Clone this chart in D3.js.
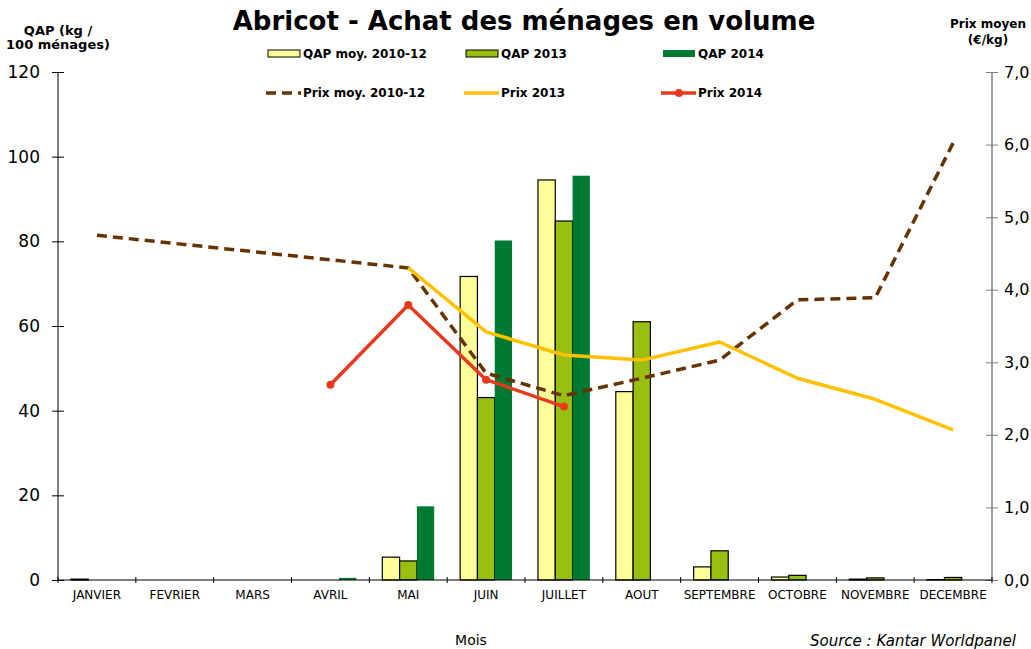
<!DOCTYPE html>
<html lang="fr">
	<head>
		<meta charset="utf-8">
		<title>Abricot - Achat des ménages en volume</title>
		<script type="text/javascript" src="https://cdn.jsdelivr.net/npm/d3@7"></script>
		<style type="text/css">
			body { margin: 0; background: #fff; }
			text { font-family: "DejaVu Sans", Verdana, sans-serif; }
		</style>
	</head>
	<body>
		<script type="text/javascript">

			//Width and height
			let w = 1031;
			let h = 649;

			//Data
			let months = ["JANVIER","FEVRIER","MARS","AVRIL","MAI","JUIN","JUILLET","AOUT","SEPTEMBRE","OCTOBRE","NOVEMBRE","DECEMBRE"];
			let qapMoy  = [0.2, 0, 0, 0, 5.4, 71.7, 94.5, 44.5, 3.1, 0.7, 0.2, 0.1];
			let qap2013 = [0, 0, 0, 0, 4.5, 43.1, 84.8, 61.0, 6.9, 1.1, 0.5, 0.6];
			let qap2014 = [0, 0, 0, 0.5, 17.4, 80.2, 95.5, null, null, null, null, null];
			let prixMoy  = [4.75, null, null, null, 4.30, 2.85, 2.54, 2.78, 3.03, 3.86, 3.89, 6.02];
			let prix2013 = [null, null, null, null, 4.30, 3.42, 3.10, 3.03, 3.28, 2.78, 2.49, 2.07];
			let prix2014 = [null, null, null, 2.69, 3.79, 2.76, 2.39, null, null, null, null, null];
			let leftTicks  = [0, 20, 40, 60, 80, 100, 120];
			let rightTicks = [0, 1, 2, 3, 4, 5, 6, 7];

			let barSeries = [
				{ name: "QAP moy. 2010-12", values: qapMoy,  fill: "#FFFF99", stroke: "#000" },
				{ name: "QAP 2013",         values: qap2013, fill: "#99BF10", stroke: "#000" },
				{ name: "QAP 2014",         values: qap2014, fill: "#007A33", stroke: "none" }
			];
			let lineSeries = [
				{ name: "Prix moy. 2010-12", values: prixMoy,  color: "#663300", dash: "10,6", dot: false },
				{ name: "Prix 2013",         values: prix2013, color: "#FFC000", dash: null,   dot: false },
				{ name: "Prix 2014",         values: prix2014, color: "#E8381E", dash: null,   dot: true }
			];

			//Plot area
			let pLeft = 58, pRight = 992, pTop = 72, pBottom = 580;

			let x = d3.scaleBand().domain(months).range([pLeft, pRight]);
			let bw = x.bandwidth();
			let xs = d3.scaleBand().domain(d3.range(barSeries.length)).range([bw / 6, bw * 5 / 6]);
			let yL = d3.scaleLinear().domain([0, 120]).range([pBottom, pTop]);
			let yR = d3.scaleLinear().domain([0, 7]).range([pBottom, pTop]);

			let svg = d3.select("body")
						.append("svg")
						  .attr("width", w)
						  .attr("height", h);

			//Bars
			barSeries.forEach((s, i) => {
				svg.append("g").selectAll("rect")
					.data(s.values.map((v, j) => ({ m: months[j], v: v })).filter(d => d.v != null && d.v > 0))
					.enter()
				  .append("rect")
					.attr("x", d => x(d.m) + xs(i))
					.attr("y", d => yL(d.v))
					.attr("width", xs.bandwidth())
					.attr("height", d => yL(0) - yL(d.v))
					.style("fill", s.fill)
					.style("stroke", s.stroke)
					.style("stroke-width", 1.2);
			});

			//Lines
			let lineGen = d3.line()
							.x(d => x(d.m) + bw / 2)
							.y(d => yR(d.v));
			lineSeries.forEach(s => {
				let pts = s.values.map((v, j) => ({ m: months[j], v: v })).filter(d => d.v != null);
				svg.append("path")
					.attr("d", lineGen(pts))
					.style("fill", "none")
					.style("stroke", s.color)
					.style("stroke-width", 3.5)
					.style("stroke-dasharray", s.dash)
					.style("stroke-linejoin", "round");
				if (s.dot) {
					svg.append("g").selectAll("circle")
						.data(pts)
						.enter()
					  .append("circle")
						.attr("cx", d => x(d.m) + bw / 2)
						.attr("cy", d => yR(d.v))
						.attr("r", 4)
						.style("fill", s.color);
				}
			});

			//Left axis
			let axL = svg.append("g")
						.attr("transform", `translate(${pLeft},0)`)
						.call(d3.axisLeft(yL).tickValues(leftTicks).tickSize(6).tickPadding(12));
			axL.selectAll(".tick line").attr("x1", 6);
			axL.select(".domain").attr("d", `M0,${pTop}V${pBottom}`);
			axL.selectAll("text").style("font-size", "17px").style("fill", "#000");

			//Right axis
			let axR = svg.append("g")
						.attr("transform", `translate(${pRight},0)`)
						.call(d3.axisRight(yR).tickValues(rightTicks).tickSize(6).tickPadding(6)
							.tickFormat(d => d3.format(".1f")(d).replace(".", ",")));
			axR.selectAll(".tick line").attr("x1", -6).style("stroke", "#808080");
			axR.select(".domain").attr("d", `M0,${pTop}V${pBottom}`).style("stroke", "#808080").style("stroke-width", 1.5);
			axR.selectAll("text").style("font-size", "16px").style("fill", "#000");

			//Bottom axis
			svg.append("line")
				.attr("x1", pLeft).attr("x2", pRight)
				.attr("y1", pBottom).attr("y2", pBottom)
				.style("stroke", "#000");
			svg.append("g").selectAll("line")
				.data(months.map(m => x(m)).concat([pRight]))
				.enter()
			  .append("line")
				.attr("x1", d => d).attr("x2", d => d)
				.attr("y1", pBottom - 3).attr("y2", pBottom + 3)
				.style("stroke", "#000");
			svg.append("g").selectAll("text")
				.data(months)
				.enter()
			  .append("text")
				.attr("x", d => x(d) + bw / 2)
				.attr("y", pBottom + 19)
				.attr("text-anchor", "middle")
				.style("font-size", "12px")
				.text(d => d);

			//Titles
			svg.append("text")
				.attr("x", 524).attr("y", 30)
				.attr("text-anchor", "middle")
				.style("font-size", "26px").style("font-weight", "bold")
				.text("Abricot - Achat des ménages en volume");

			svg.append("text")
				.attr("x", 58).attr("y", 35)
				.attr("text-anchor", "middle")
				.style("font-size", "13px").style("font-weight", "bold")
				.selectAll("tspan")
				.data(["QAP (kg /", "100 ménages)"])
				.enter()
			  .append("tspan")
				.attr("x", 58)
				.attr("dy", (d, i) => i ? 14 : 0)
				.text(d => d);

			svg.append("text")
				.attr("x", 988).attr("y", 28)
				.attr("text-anchor", "middle")
				.style("font-size", "12px").style("font-weight", "bold")
				.selectAll("tspan")
				.data(["Prix moyen", "(€/kg)"])
				.enter()
			  .append("tspan")
				.attr("x", 988)
				.attr("dy", (d, i) => i ? 16 : 0)
				.text(d => d);

			svg.append("text")
				.attr("x", 471).attr("y", 645)
				.attr("text-anchor", "middle")
				.style("font-size", "14px")
				.text("Mois");

			svg.append("text")
				.attr("x", 810).attr("y", 646)
				.style("font-size", "15px").style("font-style", "italic")
				.text("Source : Kantar Worldpanel");

			//Legend
			let legX = [266, 464, 661];
			let leg = svg.append("g").style("font-size", "12px").style("font-weight", "bold");
			barSeries.forEach((s, i) => {
				leg.append("rect")
					.attr("x", legX[i] + 2).attr("y", 50)
					.attr("width", 32).attr("height", 7)
					.style("fill", s.fill)
					.style("stroke", s.stroke);
				leg.append("text")
					.attr("x", legX[i] + 37).attr("y", 58)
					.text(s.name);
			});
			lineSeries.forEach((s, i) => {
				leg.append("line")
					.attr("x1", legX[i]).attr("x2", legX[i] + 35)
					.attr("y1", 93).attr("y2", 93)
					.style("stroke", s.color)
					.style("stroke-width", 3.5)
					.style("stroke-dasharray", s.dash);
				if (s.dot) {
					leg.append("circle")
						.attr("cx", legX[i] + 18).attr("cy", 93).attr("r", 4)
						.style("fill", s.color);
				}
				leg.append("text")
					.attr("x", legX[i] + 37).attr("y", 97)
					.text(s.name);
			});

		</script>
	</body>
</html>
